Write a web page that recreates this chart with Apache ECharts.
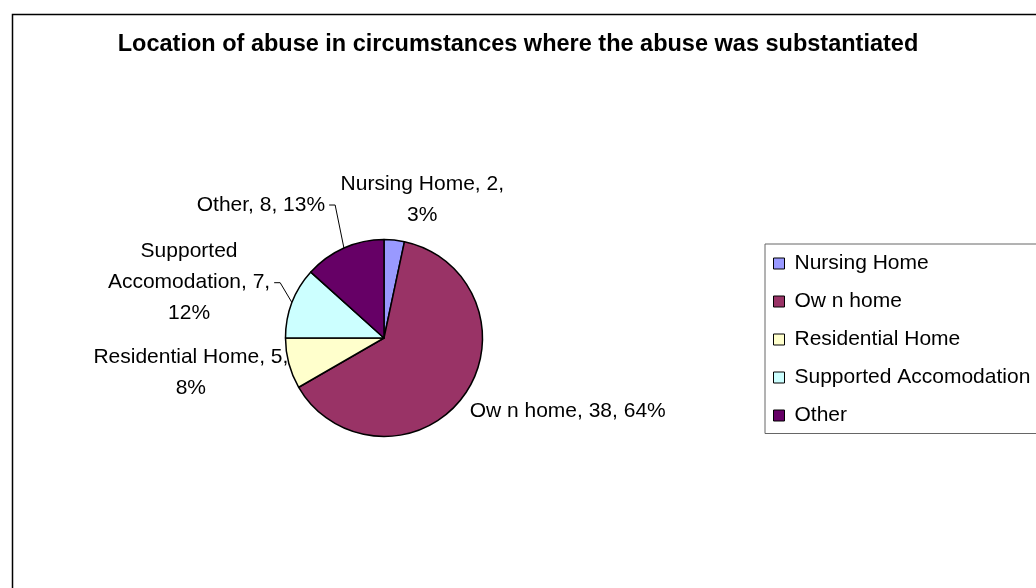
<!DOCTYPE html>
<html>
<head>
<meta charset="utf-8">
<script src="https://cdn.jsdelivr.net/npm/echarts@6/dist/echarts.min.js"></script>
<style>
  html, body { margin: 0; padding: 0; background: #fff; }
  #chart { width: 1036px; height: 588px; }
</style>
</head>
<body>
<div id="chart"></div>
<script>
// ---- data ----
const chartTitle = 'Location of abuse in circumstances where the abuse was substantiated';
const categories = ['Nursing Home', 'Ow n home', 'Residential Home', 'Supported Accomodation', 'Other'];
const values = [2, 38, 5, 7, 8];
const percentLabels = ['3%', '64%', '8%', '12%', '13%'];
const colors = ['#9999FF', '#993366', '#FFFFCC', '#CCFFFF', '#660066'];

// ---- label styling (wrap widths, offsets from slice edge, leader lines) ----
const wrapWidths = [170, 400, 200, 170, 400];
const showLeader = [false, false, false, true, true];
const labelOffsets = [[28, -40], [104, 15], [-98, 9], [-103, -20], [-83, -43]];

const FONT = '"Liberation Sans", Arial, sans-serif';
const LABEL_SIZE = 21;
const PIE_CX = 384, PIE_CY = 338, PIE_R = 98.5;

// simple word wrapping using canvas text metrics
const measureCtx = document.createElement('canvas').getContext('2d');
measureCtx.font = LABEL_SIZE + 'px "Liberation Sans", Arial, sans-serif';
function wrapText(text, maxW) {
  const words = text.split(' ');
  const lines = [];
  let cur = '';
  words.forEach(w => {
    const trial = cur ? cur + ' ' + w : w;
    if (cur && measureCtx.measureText(trial).width > maxW) {
      lines.push(cur);
      cur = w;
    } else {
      cur = trial;
    }
  });
  if (cur) lines.push(cur);
  return lines.join('\n');
}

// mid-angle edge point of each slice (clockwise from 12 o'clock)
const total = values.reduce((a, b) => a + b, 0);
const edgePoints = [];
(function () {
  let cum = 0;
  values.forEach(v => {
    const a = (cum + v / 2) / total * Math.PI * 2;
    edgePoints.push([PIE_CX + PIE_R * Math.sin(a), PIE_CY - PIE_R * Math.cos(a)]);
    cum += v;
  });
})();

const chart = echarts.init(document.getElementById('chart'), null, { renderer: 'canvas' });

const seriesData = categories.map((name, i) => ({
  name: name,
  value: values[i],
  itemStyle: { color: colors[i] },
  labelLine: { show: showLeader[i] }
}));

chart.setOption({
  animation: false,
  backgroundColor: '#ffffff',
  title: {
    text: chartTitle,
    left: 'center',
    top: 28,
    textStyle: { fontFamily: FONT, fontSize: 23.5, fontWeight: 'bold', color: '#000' }
  },
  graphic: [{
    type: 'rect',
    left: 10, top: 12,
    shape: { width: 1100, height: 700 },
    style: { fill: 'none', stroke: '#000', lineWidth: 1.5 },
    silent: true,
    z: -1
  }],
  legend: {
    orient: 'vertical',
    left: 765,
    top: 244,
    padding: [9, 30, 7.5, 8],
    itemGap: 17,
    itemWidth: 11,
    itemHeight: 11,
    icon: 'rect',
    borderColor: '#666',
    borderWidth: 1,
    itemStyle: { borderColor: '#000', borderWidth: 1 },
    textStyle: { fontFamily: FONT, fontSize: 21, lineHeight: 21, color: '#000', padding: [0, 0, 0, 5] },
    data: categories
  },
  series: [{
    type: 'pie',
    center: [PIE_CX, PIE_CY],
    radius: PIE_R,
    startAngle: 90,
    clockwise: true,
    avoidLabelOverlap: false,
    itemStyle: { borderColor: '#000', borderWidth: 1.5 },
    label: {
      show: true,
      position: 'outside',
      fontFamily: FONT,
      fontSize: LABEL_SIZE,
      lineHeight: 31,
      color: '#000',
      formatter: function (p) {
        return wrapText(p.name + ', ' + p.value + ', ' + percentLabels[p.dataIndex], wrapWidths[p.dataIndex]);
      }
    },
    labelLine: {
      show: true,
      length: 10,
      length2: 8,
      lineStyle: { color: '#000', width: 1 }
    },
    labelLayout: function (p) {
      const i = p.dataIndex;
      const e = edgePoints[i];
      const cx = e[0] + labelOffsets[i][0];
      const cy = e[1] + labelOffsets[i][1];
      const res = { x: cx, y: cy, align: 'center', verticalAlign: 'middle' };
      if (showLeader[i]) {
        const right = cx + p.labelRect.width / 2;
        res.labelLinePoints = [[e[0], e[1]], [right + 10, cy], [right + 4, cy]];
      }
      return res;
    },
    emphasis: { disabled: true },
    data: seriesData
  }]
});
</script>
</body>
</html>
